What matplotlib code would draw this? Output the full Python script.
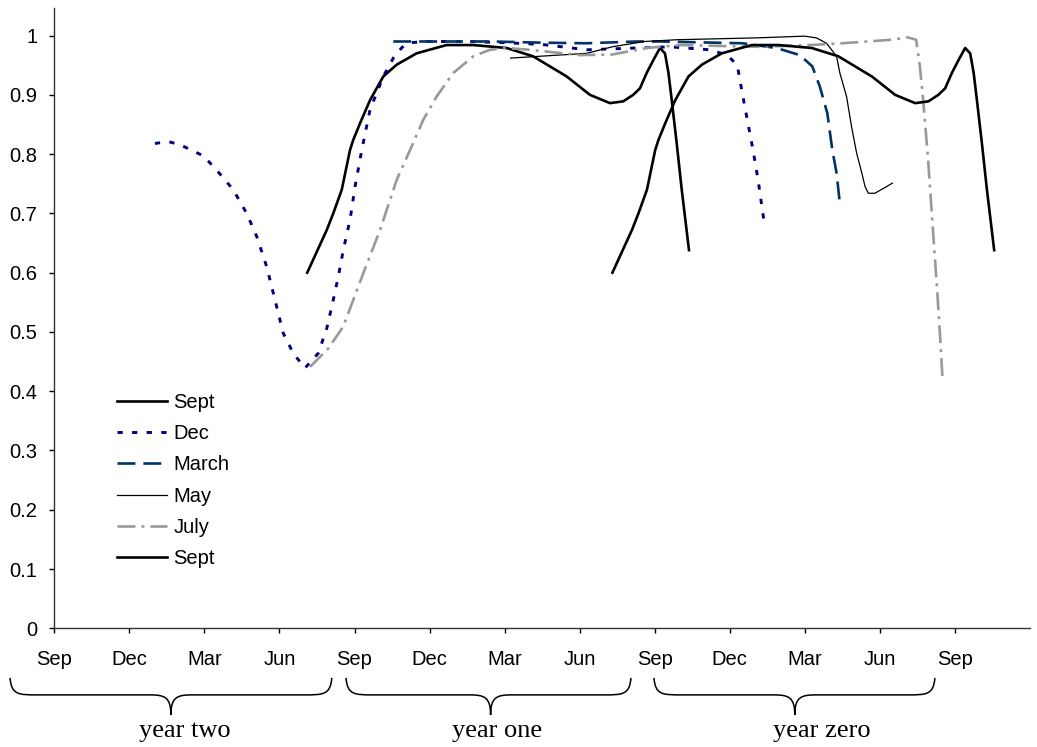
import matplotlib
matplotlib.use('Agg')
import matplotlib.pyplot as plt
import matplotlib.transforms as mtransforms
from matplotlib.path import Path
from matplotlib.patches import PathPatch

# x values are months counted from the first September on the axis
sept_x = [10.11, 10.89, 11.15, 11.49, 11.82, 11.95, 12.22, 12.62, 13.15, 13.69, 14.48, 15.68,
          16.75, 18.08, 19.14, 19.81, 20.48, 21.41, 22.21, 22.74, 23.14, 23.41, 23.68, 23.95,
          24.21, 24.41, 24.55, 24.68, 24.88, 25.08, 25.37]
sept_y = [0.600, 0.672, 0.700, 0.740, 0.807, 0.824, 0.852, 0.891, 0.931, 0.951, 0.970, 0.984,
          0.984, 0.979, 0.965, 0.948, 0.931, 0.900, 0.886, 0.889, 0.900, 0.911, 0.937, 0.959,
          0.979, 0.970, 0.937, 0.891, 0.818, 0.740, 0.638]

dec_x = [4.02, 4.56, 5.02, 5.96, 6.49, 7.15, 7.69, 8.09, 8.49, 8.82, 9.15, 9.55, 10.02,
         10.55, 10.89, 11.15, 11.35, 11.55, 11.82, 12.02, 12.29, 12.62, 13.15, 13.55, 13.9,
         14.2, 15.0, 16.5, 18.0, 19.5, 21.28, 23.28, 24.6, 26.2, 26.9, 27.3, 27.5, 27.7,
         27.93, 28.13, 28.36]
dec_y = [0.818, 0.821, 0.816, 0.797, 0.773, 0.740, 0.700, 0.661, 0.610, 0.554, 0.498, 0.464,
         0.439, 0.464, 0.506, 0.554, 0.593, 0.638, 0.689, 0.745, 0.807, 0.875, 0.931, 0.962,
         0.980, 0.988, 0.990, 0.990, 0.988, 0.985, 0.976, 0.979, 0.981, 0.976, 0.967, 0.950,
         0.903, 0.858, 0.807, 0.757, 0.689]

march_x = [13.55, 15.5, 17.5, 19.5, 21.28, 23.3, 24.2, 27.5, 28.87, 29.8, 30.3, 30.6, 30.9,
           31.1, 31.27, 31.4]
march_y = [0.990, 0.990, 0.990, 0.988, 0.987, 0.990, 0.990, 0.987, 0.979, 0.967, 0.948, 0.914,
           0.869, 0.807, 0.768, 0.717]

may_x = [18.24, 21.28, 22.3, 23.6, 24.9, 28.0, 30.0, 30.47, 30.87, 31.27, 31.4, 31.67, 31.87,
         32.07, 32.28, 32.41, 32.54, 32.8, 33.14, 33.5]
may_y = [0.962, 0.970, 0.981, 0.990, 0.993, 0.996, 0.999, 0.996, 0.987, 0.965, 0.937, 0.897,
         0.846, 0.802, 0.768, 0.745, 0.734, 0.734, 0.742, 0.751]

july_x = [10.22, 10.95, 11.55, 11.95, 12.35, 13.02, 13.69, 14.22, 14.75, 15.28, 15.95, 16.75,
          17.41, 18.08, 19.0, 21.0, 22.3, 23.68, 25.0, 28.2, 30.2, 31.5, 33.5, 34.1, 34.45,
          34.6, 34.73, 34.93, 35.13, 35.29, 35.4, 35.5]
july_y = [0.441, 0.472, 0.509, 0.554, 0.599, 0.672, 0.757, 0.807, 0.858, 0.897, 0.937, 0.965,
          0.976, 0.979, 0.976, 0.967, 0.968, 0.979, 0.984, 0.981, 0.984, 0.987, 0.993, 0.997,
          0.993, 0.948, 0.892, 0.790, 0.667, 0.571, 0.498, 0.425]

sept2_x = [22.31, 23.09, 23.35, 23.69, 24.02, 24.15, 24.42, 24.82, 25.35, 25.89, 26.68, 27.88,
           28.95, 30.28, 31.34, 32.01, 32.68, 33.61, 34.41, 34.94, 35.34, 35.61, 35.88, 36.15,
           36.41, 36.61, 36.75, 36.88, 37.08, 37.28, 37.57]
sept2_y = [0.600, 0.672, 0.700, 0.740, 0.807, 0.824, 0.852, 0.891, 0.931, 0.951, 0.970, 0.984,
           0.984, 0.979, 0.965, 0.948, 0.931, 0.900, 0.886, 0.889, 0.900, 0.911, 0.937, 0.959,
           0.979, 0.970, 0.937, 0.891, 0.818, 0.740, 0.638]

month_ticks = [0, 3, 6, 9, 12, 15, 18, 21, 24, 27, 30, 33, 36]
month_labels = ['Sep', 'Dec', 'Mar', 'Jun', 'Sep', 'Dec', 'Mar', 'Jun',
                'Sep', 'Dec', 'Mar', 'Jun', 'Sep']
value_ticks = [0, 0.1, 0.2, 0.3, 0.4, 0.5, 0.6, 0.7, 0.8, 0.9, 1.0]
value_labels = ['0', '0.1', '0.2', '0.3', '0.4', '0.5', '0.6', '0.7', '0.8', '0.9', '1']
year_names = ['year two', 'year one', 'year zero']


def draw_brace(ax, x0, x1, xtip):
	"""Curly brace under the x axis, x in months, y in axes fraction."""
	trans = mtransforms.blended_transform_factory(ax.transData, ax.transAxes)
	top, mid, tip = -0.080, -0.1074, -0.1398
	r = 1.1
	t = 0.85
	verts = [(x0, top), (x0 + 0.05 * r, mid), (x0 + 0.3 * r, mid), (x0 + r, mid),
			 (xtip - t, mid),
			 (xtip - 0.3 * t, mid), (xtip, mid + 0.1 * (tip - mid)), (xtip, tip),
			 (xtip, mid + 0.1 * (tip - mid)), (xtip + 0.3 * t, mid), (xtip + t, mid),
			 (x1 - r, mid),
			 (x1 - 0.3 * r, mid), (x1 - 0.05 * r, mid), (x1, top)]
	codes = [Path.MOVETO, Path.CURVE4, Path.CURVE4, Path.CURVE4,
			 Path.LINETO,
			 Path.CURVE4, Path.CURVE4, Path.CURVE4,
			 Path.CURVE4, Path.CURVE4, Path.CURVE4,
			 Path.LINETO,
			 Path.CURVE4, Path.CURVE4, Path.CURVE4]
	patch = PathPatch(Path(verts, codes), transform=trans, facecolor='none',
					  edgecolor='black', lw=1.1, clip_on=False)
	ax.add_patch(patch)


def main():
	plt.rcParams['font.family'] = ['Liberation Sans', 'DejaVu Sans']
	fig = plt.figure(figsize=(10.37, 7.47), dpi=100)
	ax = fig.add_axes([0.0524, 0.1589, 0.9408, 0.830])

	line_opts = dict(solid_joinstyle='round', dash_joinstyle='round')
	ax.plot(sept_x, sept_y, color='black', lw=1.9, label='Sept', **line_opts)
	ax.plot(dec_x, dec_y, color='#000080', lw=2.1, dashes=(1.8, 3.2), label='Dec', **line_opts)
	ax.plot(march_x, march_y, color='#003366', lw=1.9, dashes=(6.8, 3.0), label='March', **line_opts)
	ax.plot(may_x, may_y, color='black', lw=0.9, label='May', **line_opts)
	ax.plot(july_x, july_y, color='#999999', lw=1.9, dashes=(6.8, 2.3, 1.1, 2.3), label='July', **line_opts)
	ax.plot(sept2_x, sept2_y, color='black', lw=1.9, label='Sept', **line_opts)

	ax.set_xlim(0, 39)
	ax.set_ylim(0, 1.046)
	ax.set_xticks(month_ticks)
	ax.set_xticklabels(month_labels)
	ax.set_yticks(value_ticks)
	ax.set_yticklabels(value_labels)
	ax.tick_params(axis='both', direction='out', length=3.6, width=1, labelsize=14.5, colors='black')
	ax.tick_params(axis='x', pad=12)
	ax.tick_params(axis='y', pad=8.5)
	for side in ['top', 'right']:
		ax.spines[side].set_visible(False)
	for side in ['left', 'bottom']:
		ax.spines[side].set_color('#333333')
		ax.spines[side].set_linewidth(1)

	ax.legend(loc='upper left', bbox_to_anchor=(0.064, 0.379), frameon=False,
			  fontsize=14.5, handlelength=2.5, handletextpad=0.3, labelspacing=0.6,
			  borderpad=0, borderaxespad=0)

	# braces and period names under the axis
	draw_brace(ax, -1.77, 11.09, 4.66)
	draw_brace(ax, 11.66, 23.05, 17.44)
	draw_brace(ax, 23.97, 35.2, 29.6)
	name_x = [5.22, 17.69, 30.68]
	for i in range(len(year_names)):
		ax.text(name_x[i], -0.1753, year_names[i], transform=mtransforms.blended_transform_factory(ax.transData, ax.transAxes),
				ha='center', va='baseline', fontsize=19, family='Liberation Serif')

	fig.savefig('out.png', dpi=100)


if __name__ == "__main__":
	main()
